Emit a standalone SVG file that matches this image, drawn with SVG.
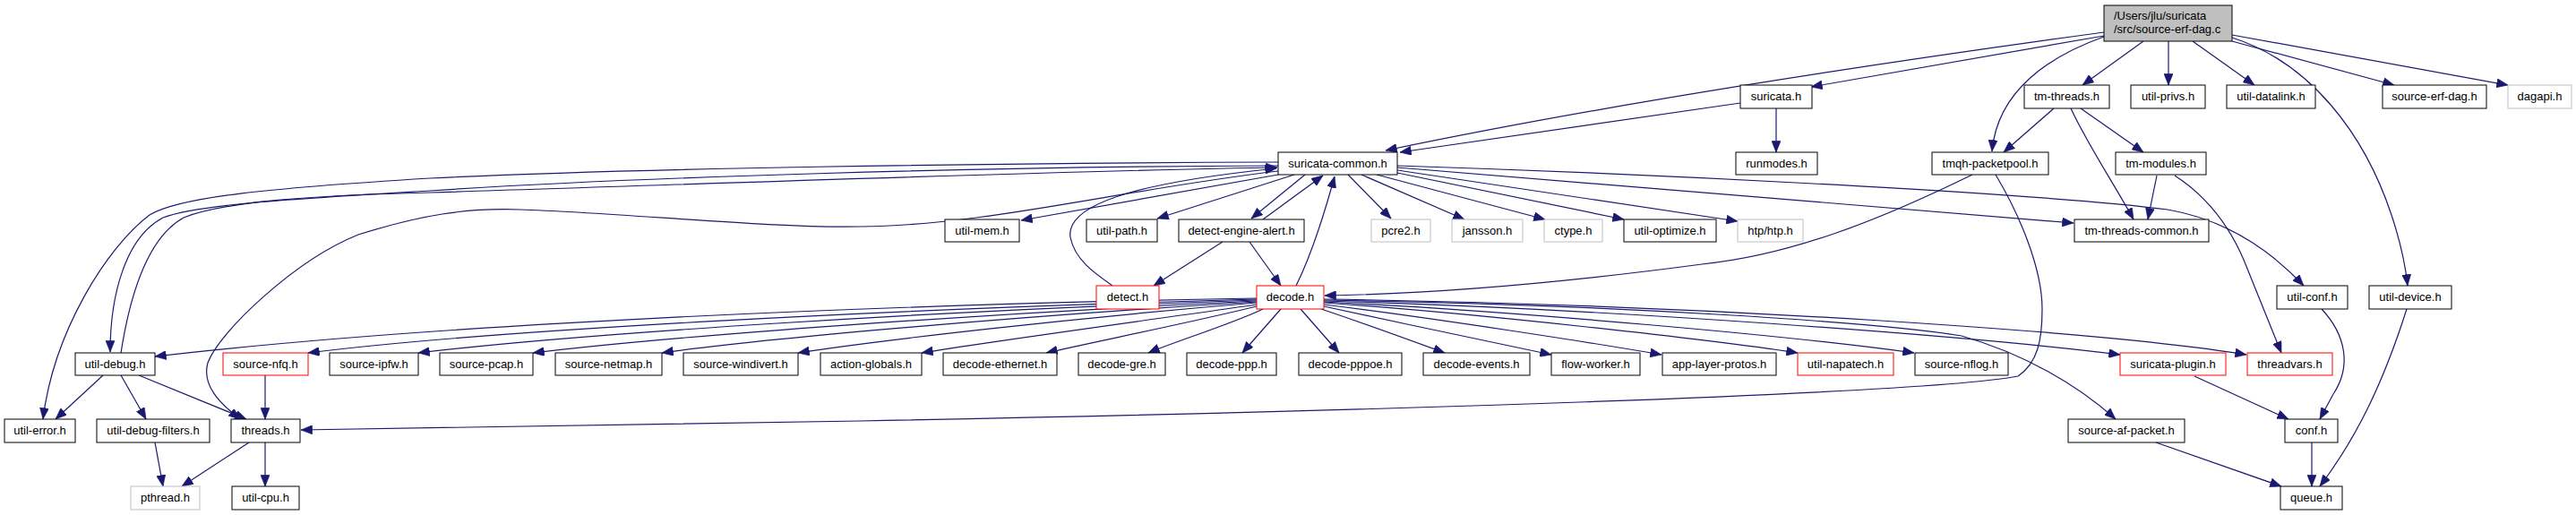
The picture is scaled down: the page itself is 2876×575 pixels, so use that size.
<svg xmlns="http://www.w3.org/2000/svg" width="2876" height="575" viewBox="0 0 2876 575">
<style>
.n rect{fill:#fff;stroke:#000;stroke-width:1}
.n.red rect{stroke:#ff0000}
.n.ext rect{stroke:#bfbfbf}
.n.root rect{fill:#bfbfbf;stroke:#000}
.n text{font-family:"Liberation Sans",Arial,sans-serif;font-size:13px;fill:#000;text-anchor:middle}
.n.root text{text-anchor:start}
#edges path{fill:none;stroke:#191970;stroke-width:1.2;marker-end:url(#arr)}
</style>
<defs>
<marker id="arr" viewBox="0 0 10 8" refX="10" refY="4" markerWidth="13" markerHeight="10" markerUnits="userSpaceOnUse" orient="auto">
<path d="M0,0 L10,4 L0,8 z" fill="#191970" stroke="#191970" stroke-width="0.5"/>
</marker>
</defs>
<rect width="2876" height="575" fill="#fff"/>
<g id="edges">
<path d="M2349,36 C2100,70 1800,115 1547,168"/>
<path d="M1943,115 L1563,170"/>
<path d="M2349,40 L2022,97"/>
<path d="M2349,41 C2290,62 2230,100 2224,169"/>
<path d="M2393,46 L2325,95"/>
<path d="M2421,46 L2421,95"/>
<path d="M2448,46 L2517,95"/>
<path d="M2492,46 L2673,95"/>
<path d="M2492,39 L2800,95"/>
<path d="M2492,42 C2580,70 2640,150 2670,240 C2680,270 2686,300 2688,319"/>
<path d="M2293,121 L2237,170"/>
<path d="M2323,121 L2393,170"/>
<path d="M2312,121 C2330,160 2360,205 2382,245"/>
<path d="M2408,196 L2398,245"/>
<path d="M2428,196 C2465,220 2490,255 2505,290 L2547,394"/>
<path d="M1983,121 L1983,170"/>
<path d="M2202,195 C2100,245 2000,285 1900,295 C1750,315 1600,328 1479,330"/>
<path d="M2228,195 C2255,240 2280,300 2280,345 C2280,380 2275,405 2253,420 C2150,440 1500,460 960,470 C700,475 500,478 336,480"/>
<path d="M1427,195 L1140,246"/>
<path d="M1445,195 L1292,244"/>
<path d="M1457,195 L1397,244"/>
<path d="M1410,245 L1477,196"/>
<path d="M1447,319 C1455,303 1470,270 1490,197"/>
<path d="M1242,319 C1222,305 1200,290 1195,265 C1190,230 1260,205 1425,188"/>
<path d="M1505,195 L1553,244"/>
<path d="M1520,195 L1635,245"/>
<path d="M1537,195 L1725,245"/>
<path d="M1560,193 L1813,245"/>
<path d="M1560,190 L1940,247"/>
<path d="M1560,187 L2315,249"/>
<path d="M1560,185 C1900,196 2300,218 2420,234 C2490,246 2540,285 2572,319"/>
<path d="M1427,181 C1100,182 700,188 480,199 C300,210 200,220 167,240 C120,275 60,370 48,468"/>
<path d="M1427,185 C1100,186 700,198 480,213 C330,222 220,228 182,243 C140,265 123,330 123,393"/>
<path d="M135,394 C145,330 165,265 205,243 C250,225 350,218 480,215 C800,205 1200,190 1426,187"/>
<path d="M1427,191 C1250,212 1100,252 960,253 C860,255 700,238 580,234 C520,232 470,240 400,262 C330,290 245,370 232,405 C225,430 245,450 268,468"/>
<path d="M1365,270 L1288,319"/>
<path d="M1395,270 L1430,319"/>
<path d="M1403,333 C1000,340 500,360 173,398"/>
<path d="M1403,334 C1000,345 550,368 344,394"/>
<path d="M1403,335 C1050,347 650,372 467,394"/>
<path d="M1403,336 C1100,350 750,375 595,394"/>
<path d="M1403,337 C1150,352 850,378 739,394"/>
<path d="M1403,338 C1200,355 980,380 891,394"/>
<path d="M1403,340 C1300,355 1100,382 1029,394"/>
<path d="M1403,342 C1330,360 1220,382 1168,394"/>
<path d="M1410,345 C1380,360 1310,382 1282,394"/>
<path d="M1430,345 L1387,394"/>
<path d="M1452,345 L1495,394"/>
<path d="M1475,345 C1520,360 1580,382 1613,394"/>
<path d="M1478,342 C1560,360 1680,385 1732,396"/>
<path d="M1478,340 C1600,355 1780,383 1855,396"/>
<path d="M1478,338 C1650,350 1900,378 2007,394"/>
<path d="M1478,337 C1700,348 2000,375 2137,394"/>
<path d="M1478,336 C1800,345 2200,375 2367,396"/>
<path d="M1478,334 C1900,340 2350,370 2508,396"/>
<path d="M1478,335 C1800,340 2100,360 2190,375 C2260,395 2320,430 2362,468"/>
<path d="M115,419 L62,468"/>
<path d="M135,419 L163,468"/>
<path d="M155,419 L275,468"/>
<path d="M296,419 L296,468"/>
<path d="M173,494 L182,543"/>
<path d="M278,494 L203,543"/>
<path d="M296,494 L296,543"/>
<path d="M2592,345 C2620,375 2625,410 2605,440 L2590,468"/>
<path d="M2687,345 C2660,430 2630,490 2590,543"/>
<path d="M2581,494 L2581,543"/>
<path d="M2450,420 L2555,468"/>
<path d="M2407,494 L2547,543"/>
</g>
<g id="root" class="n root"><rect x="2349" y="6" width="143" height="40"/><text x="2360" y="22">/Users/jlu/suricata</text><text x="2360" y="37">/src/source-erf-dag.c</text></g>
<g id="suricata_h" class="n"><rect x="1943" y="95" width="80" height="26"/><text x="1983" y="112">suricata.h</text></g>
<g id="tm_threads_h" class="n"><rect x="2260" y="95" width="95" height="26"/><text x="2307.5" y="112">tm-threads.h</text></g>
<g id="util_privs_h" class="n"><rect x="2379" y="95" width="83" height="26"/><text x="2420.5" y="112">util-privs.h</text></g>
<g id="util_datalink_h" class="n"><rect x="2486" y="95" width="99" height="26"/><text x="2535.5" y="112">util-datalink.h</text></g>
<g id="source_erf_dag_h" class="n"><rect x="2660" y="95" width="116" height="26"/><text x="2718" y="112">source-erf-dag.h</text></g>
<g id="dagapi_h" class="n ext"><rect x="2800" y="95" width="71" height="26"/><text x="2835.5" y="112">dagapi.h</text></g>
<g id="runmodes_h" class="n"><rect x="1938" y="170" width="91" height="25"/><text x="1983.5" y="187">runmodes.h</text></g>
<g id="suricata_common_h" class="n"><rect x="1427" y="170" width="133" height="25"/><text x="1493.5" y="187">suricata-common.h</text></g>
<g id="tmqh_packetpool_h" class="n"><rect x="2157" y="170" width="130" height="25"/><text x="2222" y="187">tmqh-packetpool.h</text></g>
<g id="tm_modules_h" class="n"><rect x="2362" y="170" width="101" height="25"/><text x="2412.5" y="187">tm-modules.h</text></g>
<g id="util_mem_h" class="n"><rect x="1055" y="245" width="83" height="25"/><text x="1096.5" y="262">util-mem.h</text></g>
<g id="util_path_h" class="n"><rect x="1213" y="245" width="79" height="25"/><text x="1252.5" y="262">util-path.h</text></g>
<g id="detect_engine_alert_h" class="n"><rect x="1316" y="245" width="140" height="25"/><text x="1386" y="262">detect-engine-alert.h</text></g>
<g id="pcre2_h" class="n ext"><rect x="1531" y="245" width="66" height="25"/><text x="1564" y="262">pcre2.h</text></g>
<g id="jansson_h" class="n ext"><rect x="1621" y="245" width="79" height="25"/><text x="1660.5" y="262">jansson.h</text></g>
<g id="ctype_h" class="n ext"><rect x="1724" y="245" width="65" height="25"/><text x="1756.5" y="262">ctype.h</text></g>
<g id="util_optimize_h" class="n"><rect x="1813" y="245" width="103" height="25"/><text x="1864.5" y="262">util-optimize.h</text></g>
<g id="htp_h" class="n ext"><rect x="1940" y="245" width="73" height="25"/><text x="1976.5" y="262">htp/htp.h</text></g>
<g id="tm_threads_common_h" class="n"><rect x="2316" y="245" width="150" height="25"/><text x="2391" y="262">tm-threads-common.h</text></g>
<g id="detect_h" class="n red"><rect x="1224" y="319" width="70" height="26"/><text x="1259" y="336">detect.h</text></g>
<g id="decode_h" class="n red"><rect x="1403" y="319" width="75" height="26"/><text x="1440.5" y="336">decode.h</text></g>
<g id="util_conf_h" class="n"><rect x="2542" y="319" width="79" height="26"/><text x="2581.5" y="336">util-conf.h</text></g>
<g id="util_device_h" class="n"><rect x="2645" y="319" width="92" height="26"/><text x="2691" y="336">util-device.h</text></g>
<g id="util_debug_h" class="n"><rect x="84" y="394" width="89" height="25"/><text x="128.5" y="411">util-debug.h</text></g>
<g id="source_nfq_h" class="n red"><rect x="249" y="394" width="95" height="25"/><text x="296.5" y="411">source-nfq.h</text></g>
<g id="source_ipfw_h" class="n"><rect x="368" y="394" width="99" height="25"/><text x="417.5" y="411">source-ipfw.h</text></g>
<g id="source_pcap_h" class="n"><rect x="491" y="394" width="104" height="25"/><text x="543" y="411">source-pcap.h</text></g>
<g id="source_netmap_h" class="n"><rect x="620" y="394" width="119" height="25"/><text x="679.5" y="411">source-netmap.h</text></g>
<g id="source_windivert_h" class="n"><rect x="763" y="394" width="128" height="25"/><text x="827" y="411">source-windivert.h</text></g>
<g id="action_globals_h" class="n"><rect x="916" y="394" width="113" height="25"/><text x="972.5" y="411">action-globals.h</text></g>
<g id="decode_ethernet_h" class="n"><rect x="1053" y="394" width="127" height="25"/><text x="1116.5" y="411">decode-ethernet.h</text></g>
<g id="decode_gre_h" class="n"><rect x="1204" y="394" width="97" height="25"/><text x="1252.5" y="411">decode-gre.h</text></g>
<g id="decode_ppp_h" class="n"><rect x="1325" y="394" width="100" height="25"/><text x="1375" y="411">decode-ppp.h</text></g>
<g id="decode_pppoe_h" class="n"><rect x="1450" y="394" width="115" height="25"/><text x="1507.5" y="411">decode-pppoe.h</text></g>
<g id="decode_events_h" class="n"><rect x="1589" y="394" width="119" height="25"/><text x="1648.5" y="411">decode-events.h</text></g>
<g id="flow_worker_h" class="n"><rect x="1732" y="394" width="99" height="25"/><text x="1781.5" y="411">flow-worker.h</text></g>
<g id="app_layer_protos_h" class="n"><rect x="1856" y="394" width="127" height="25"/><text x="1919.5" y="411">app-layer-protos.h</text></g>
<g id="util_napatech_h" class="n red"><rect x="2007" y="394" width="107" height="25"/><text x="2060.5" y="411">util-napatech.h</text></g>
<g id="source_nflog_h" class="n"><rect x="2138" y="394" width="104" height="25"/><text x="2190" y="411">source-nflog.h</text></g>
<g id="suricata_plugin_h" class="n red"><rect x="2367" y="394" width="118" height="25"/><text x="2426" y="411">suricata-plugin.h</text></g>
<g id="threadvars_h" class="n red"><rect x="2509" y="394" width="95" height="25"/><text x="2556.5" y="411">threadvars.h</text></g>
<g id="util_error_h" class="n"><rect x="5" y="468" width="79" height="26"/><text x="44.5" y="485">util-error.h</text></g>
<g id="util_debug_filters_h" class="n"><rect x="108" y="468" width="126" height="26"/><text x="171" y="485">util-debug-filters.h</text></g>
<g id="threads_h" class="n"><rect x="258" y="468" width="77" height="26"/><text x="296.5" y="485">threads.h</text></g>
<g id="source_af_packet_h" class="n"><rect x="2309" y="468" width="130" height="26"/><text x="2374" y="485">source-af-packet.h</text></g>
<g id="conf_h" class="n"><rect x="2551" y="468" width="59" height="26"/><text x="2580.5" y="485">conf.h</text></g>
<g id="pthread_h" class="n ext"><rect x="146" y="543" width="77" height="26"/><text x="184.5" y="560">pthread.h</text></g>
<g id="util_cpu_h" class="n"><rect x="259" y="543" width="75" height="26"/><text x="296.5" y="560">util-cpu.h</text></g>
<g id="queue_h" class="n"><rect x="2546" y="543" width="69" height="26"/><text x="2580.5" y="560">queue.h</text></g>
</svg>
